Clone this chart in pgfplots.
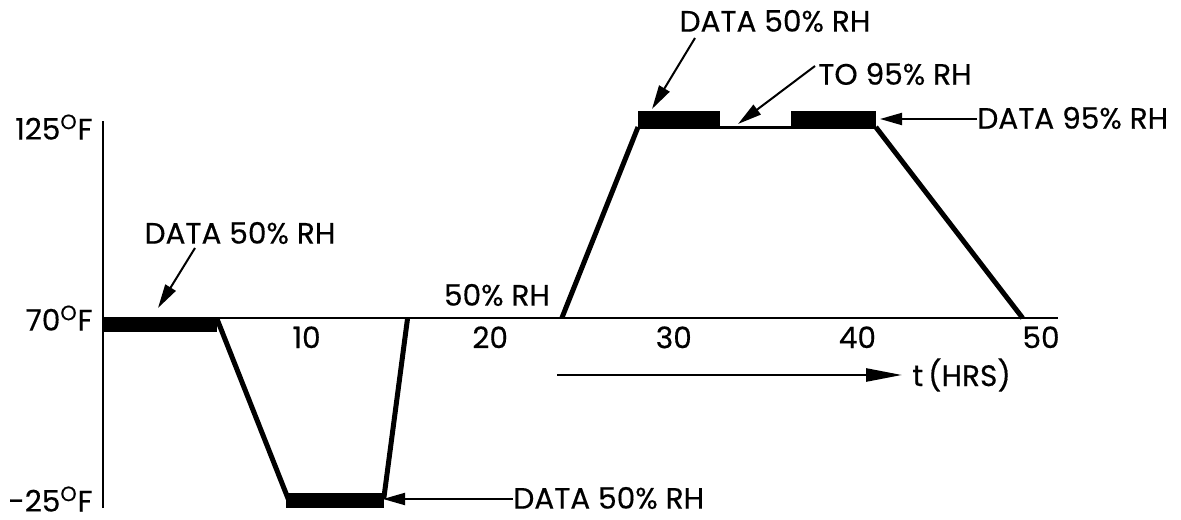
\documentclass[border=0pt]{standalone}
\usepackage{fontspec}
\setmainfont{Poppins}[UprightFeatures={FakeBold=0.4}]
\usepackage{pgfplots}
\pgfplotsset{compat=1.18}
\usetikzlibrary{arrows.meta}
\pgfplotsset{
  ramp/.style={black, mark=none, line width=2.5pt},
  bar/.style={black, mark=none},
}
\newcommand\degF{\textsuperscript{O}F}
\begin{document}
\begin{tikzpicture}[font=\fontsize{14.8}{16}\selectfont]
\begin{axis}[
  at={(0,0)}, anchor=south west,
  x=9.18pt, y=0.9525pt,
  xmin=-1.09, xmax=50.9, ymin=-29.7, ymax=126.72,
  % the temperature axis of the original is drawn on a broken scale:
  % above 70 F one degree takes 1.823 times as much room as below it
  y coord trafo/.code={\pgfmathparse{(#1>70)?(70+(#1-70)*1.823):(#1)}},
  y coord inv trafo/.code={\pgfmathparse{(#1>70)?(70+(#1-70)/1.823):(#1)}},
  axis x line=bottom, axis y line=left,
  axis line style={-, line width=1.2pt},
  x axis line style={draw=none},
  xtick={10,20,30,40,50}, xticklabels={10,20,30,40,50},
  ytick={-25,70,125}, yticklabels={-25\degF,70\degF,125\degF},
  major tick length=0pt,
  tick label style={font=\fontsize{14.8}{16}\selectfont},
  xticklabel style={anchor=north, inner sep=0pt, yshift=91pt},
  yticklabel style={anchor=east, inner sep=0pt, xshift=-5pt},
  clip=false,
]
% 70 F base line
\addplot[black, mark=none, line width=1pt] coordinates {(-1.09,70) (50.9,70)};
% temperature profile
\addplot[ramp] coordinates {(5.1,70) (9.0,-25)};
\addplot[ramp] coordinates {(14.2,-25) (15.5,70)};
\addplot[ramp] coordinates {(23.9,70) (28.05,125)};
\addplot[black, mark=none, line width=1.5pt] coordinates {(28.05,125) (41.0,125)};
\addplot[ramp] coordinates {(41.0,125) (49.0,70)};
% data-taking periods
\addplot[bar, line width=7pt, yshift=-3.5pt] coordinates {(-1.09,70) (5.1,70)};
\addplot[bar, line width=7.5pt, yshift=-0.75pt] coordinates {(8.9,-25) (14.2,-25)};
\addplot[bar, line width=9pt, yshift=3.5pt] coordinates {(28.05,125) (32.5,125)};
\addplot[bar, line width=9pt, yshift=3.5pt] coordinates {(36.4,125) (41.0,125)};
\end{axis}
\begin{scope}[x=0.5pt, y=-0.5pt, shift={(-51.5pt,256pt)}]
\tikzset{arr/.style={line width=1pt, -{Triangle[length=12pt,width=6pt]}}}
\node[inner sep=0] at (240,237) {DATA 50\% RH};
\draw[arr] (195,252) -- (158,312);
\node[inner sep=0] at (497,299) {50\% RH};
\node[inner sep=0] at (775,25) {DATA 50\% RH};
\draw[arr] (695,42) -- (652,113);
\node[anchor=west, inner sep=0] at (818,78) {TO 95\% RH};
\draw[arr] (815,70) -- (738,128);
\node[anchor=west, inner sep=0] at (977,122) {DATA 95\% RH};
\draw[line width=1pt, -{Triangle[length=11pt,width=6pt]}] (977,123) -- (880,123);
\node[anchor=west, inner sep=0] at (513,502) {DATA 50\% RH};
\draw[line width=1pt, -{Triangle[length=11pt,width=6pt]}] (513,503) -- (383,503);
\draw[line width=1.3pt, -{Triangle[length=18pt,width=6.5pt]}] (557,379) -- (902,379);
\node[anchor=west, inner sep=0] at (912,379) {t\,(HRS)};
\pgfresetboundingbox
\path (0,4) rectangle (1181,523);
\end{scope}
\end{tikzpicture}
\end{document}
